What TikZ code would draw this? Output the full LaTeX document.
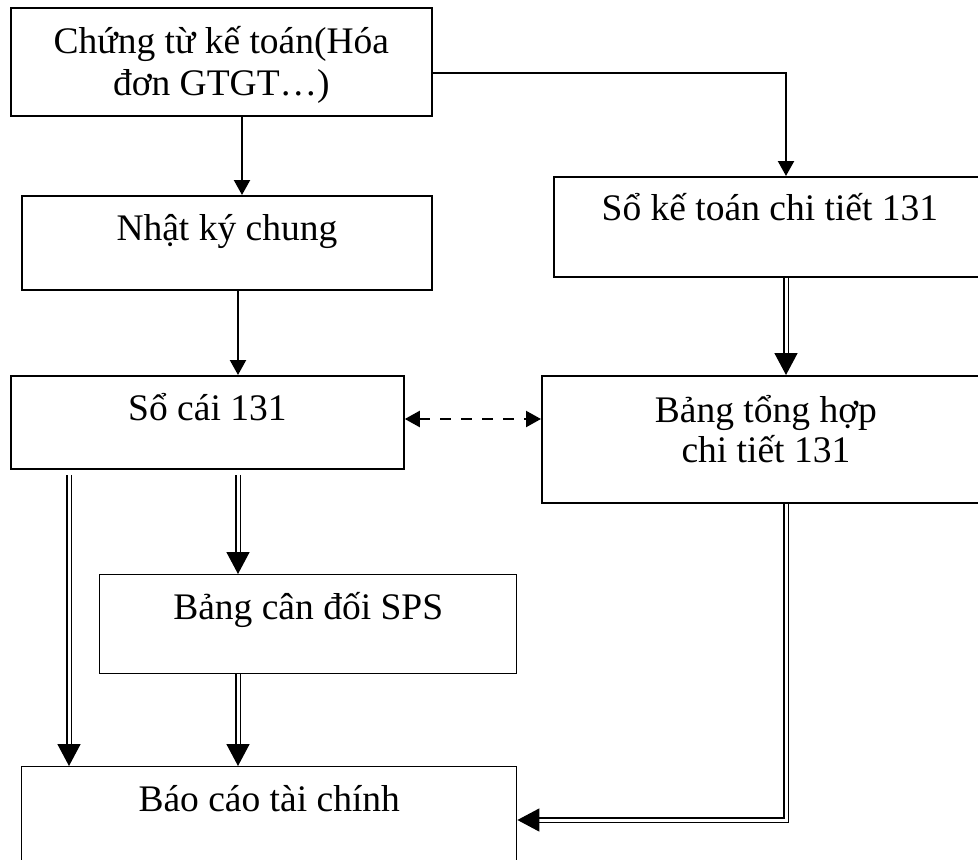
\documentclass[tikz,border=0pt]{standalone}
\usepackage{fontspec}
\setmainfont{Liberation Serif}
\usetikzlibrary{arrows.meta}
\newcommand\diagfont{\fontsize{37.5}{42}\selectfont}
\begin{document}
\begin{tikzpicture}[x=1pt,y=-1pt,
  box/.style={draw, line width=1.8pt, inner sep=0pt, anchor=north west, font=\diagfont},
  thinbox/.style={box, line width=1.4pt},
  sarrow/.style={line width=2.2pt, -{Triangle[width=16pt,length=15pt]}},
  darrow/.style={double, double distance=3pt, line width=1.6pt, -{Triangle[width=23pt,length=22pt]}},
  dasharrow/.style={line width=2.2pt, dash pattern=on 11pt off 10pt, {Triangle[width=16pt,length=15pt]}-{Triangle[width=16pt,length=15pt]}}
]
\useasboundingbox (0,0) rectangle (978,860);
\clip (0,0) rectangle (978,860);

% boxes
\node[box, minimum width=421pt, text height=46pt, text depth=62pt] (b1) at (10,7)
  {\begin{tabular}[t]{@{}c@{}}Chứng từ kế toán(Hóa\\đơn GTGT…)\end{tabular}};
\node[box, minimum width=410pt, text height=45pt, text depth=49pt] (b2) at (21,195) {Nhật ký chung};
\node[box, minimum width=432pt, text height=44pt, text depth=56pt] (b3) at (553,176) {Sổ kế toán chi tiết 131};
\node[box, minimum width=393pt, text height=45pt, text depth=48pt] (b4) at (10,375) {Sổ cái 131};
\node[box, minimum width=448pt, text height=47pt, text depth=80pt] (b5) at (541,375)
  {\begin{tabular}[t]{@{}c@{}}Bảng tổng hợp\\[-2pt]chi tiết 131\end{tabular}};
\node[thinbox, minimum width=417pt, text height=45pt, text depth=54pt] (b6) at (99,574) {Bảng cân đối SPS};
\node[thinbox, minimum width=495pt, text height=45pt, text depth=60pt] (b7) at (21,766) {Báo cáo tài chính};

% helper coordinates
\coordinate (cA) at (242,0);
\coordinate (cB) at (238,0);
\coordinate (cL) at (69,0);
\coordinate (cR) at (786,73);
\coordinate (cD) at (0,419);
\coordinate (cE) at (0,820);

% connectors
\draw[sarrow] (b1.south -| cA) -- (b2.north -| cA);
\draw[sarrow] (b1.east |- cR) -| (b3.north -| cR);
\draw[sarrow] (b2.south -| cB) -- (b4.north -| cB);
\draw[darrow] (b3.south -| cR) -- (b5.north -| cR);
\draw[dasharrow] (b4.east |- cD) -- (b5.west |- cD);
\draw[darrow, shorten <=5pt] (b4.south -| cL) -- (b7.north -| cL);
\draw[darrow, shorten <=5pt] (b4.south -| cB) -- (b6.north -| cB);
\draw[darrow] (b6.south -| cB) -- (b7.north -| cB);
\draw[darrow] (b5.south -| cR) |- (b7.east |- cE);
\end{tikzpicture}
\end{document}
